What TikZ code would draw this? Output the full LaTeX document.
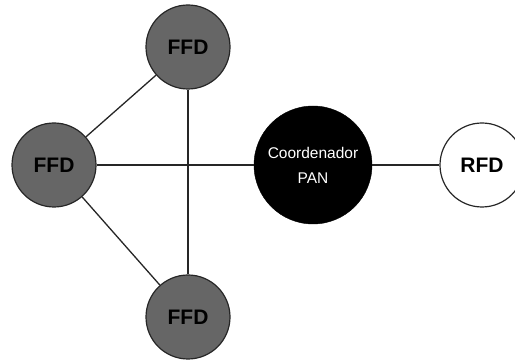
\documentclass[tikz,border=0pt]{standalone}
\usepackage{fontspec}
\setmainfont{Liberation Sans}
\begin{document}
\begin{tikzpicture}[x=1pt,y=-1pt,
  dev/.style={circle,draw=black!85,line width=1.2pt,minimum size=84pt,inner sep=0pt,
    font=\fontsize{21}{21}\selectfont\bfseries},
  ffd/.style={dev,fill=black!60},
  rfd/.style={dev,fill=white},
  coord/.style={circle,fill=black,draw=black,minimum size=118pt,inner sep=0pt,
    text=white,align=center,font=\fontsize{15.5}{25}\selectfont},
  link/.style={draw=black!85,line width=1.3pt}]
\useasboundingbox (0,0) rectangle (515,363);
% devices
\node[ffd] (top) at (188,47) {FFD};
\node[ffd] (left) at (54,165) {FFD};
\node[ffd] (bottom) at (188,317) {FFD};
\node[coord] (pan) at (313,165) {Coordenador\\PAN};
\node[rfd] (rfd) at (482,165) {RFD};
% links
\draw[link] (left) -- (top);
\draw[link] (left) -- (bottom);
\draw[link] (top) -- (bottom);
\draw[link] (left) -- (pan);
\draw[link] (pan) -- (rfd);
\end{tikzpicture}
\end{document}
